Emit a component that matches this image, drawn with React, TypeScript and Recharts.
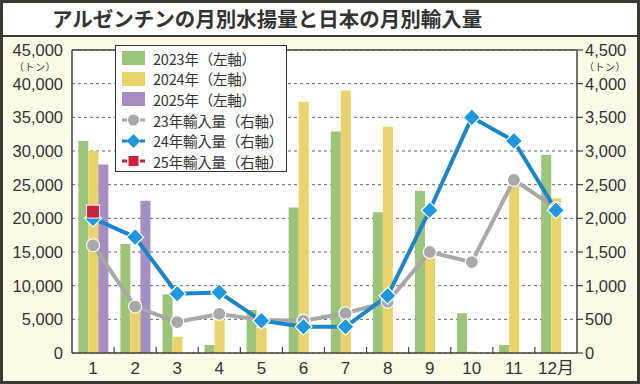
import React from 'react';
import {
  ComposedChart, Bar, Line, XAxis, YAxis, CartesianGrid, ReferenceLine,
} from 'recharts';

const months = [1, 2, 3, 4, 5, 6, 7, 8, 9, 10, 11, 12];
const monthLabels = ['1', '2', '3', '4', '5', '6', '7', '8', '9', '10', '11', '12月'];

const catch2023 = [31500, 16200, 8700, 1200, 6400, 21600, 32900, 20900, 24100, 5900, 1200, 29400];
const catch2024 = [30000, 6500, 2400, 5000, 3700, 37300, 39000, 33600, 14200, 200, 24800, 23000];
const catch2025: (number | null)[] = [28000, 22600, null, null, null, null, null, null, null, null, null, null];

const import2023 = [1600, 690, 460, 580, 490, 480, 590, 760, 1500, 1350, 2570, 2150];
const import2024 = [2000, 1720, 880, 900, 480, 390, 390, 850, 2120, 3500, 3150, 2120];
const import2025: (number | null)[] = [2100, null, null, null, null, null, null, null, null, null, null, null];

const leftTicks = [0, 5000, 10000, 15000, 20000, 25000, 30000, 35000, 40000, 45000];
const rightTicks = [0, 500, 1000, 1500, 2000, 2500, 3000, 3500, 4000, 4500];

const TITLE = 'アルゼンチンの月別水揚量と日本の月別輸入量';
const UNIT = '（トン）';

const GREEN = '#9cc47a';
const YELLOW = '#e9d36a';
const PURPLE = '#a78ec2';
const GRAY = '#a8a8a8';
const BLUE_LINE = '#1a86c6';
const BLUE_DOT = '#1f97dd';
const RED = '#c9233e';
const TEXT = '#333333';
const FONT = '"Noto Sans CJK JP", "Noto Sans", sans-serif';
const NUM_FONT = '"Liberation Sans", "Noto Sans CJK JP", sans-serif';

const data = months.map((m, i) => ({
  month: m,
  label: monthLabels[i],
  c23: catch2023[i],
  c24: catch2024[i],
  c25: catch2025[i],
  i23: import2023[i],
  i24: import2024[i],
  i25: import2025[i],
}));

const legendItems = [
  { label: '2023年（左軸）', kind: 'bar', color: GREEN },
  { label: '2024年（左軸）', kind: 'bar', color: YELLOW },
  { label: '2025年（左軸）', kind: 'bar', color: PURPLE },
  { label: '23年輸入量（右軸）', kind: 'circle', color: GRAY },
  { label: '24年輸入量（右軸）', kind: 'diamond', color: BLUE_DOT },
  { label: '25年輸入量（右軸）', kind: 'square', color: RED },
];

const circleDot = (p: any) => {
  if (p.cy == null || p.value == null) return <g key={'c' + p.index} />;
  return <circle key={'c' + p.index} cx={p.cx} cy={p.cy} r={6.5} fill={GRAY} stroke="#ffffff" strokeWidth={1.2} />;
};
const diamondDot = (p: any) => {
  if (p.cy == null || p.value == null) return <g key={'d' + p.index} />;
  const s = 8.5;
  return (
    <polygon
      key={'d' + p.index}
      points={`${p.cx},${p.cy - s} ${p.cx + s},${p.cy} ${p.cx},${p.cy + s} ${p.cx - s},${p.cy}`}
      fill={BLUE_DOT}
      stroke="#ffffff"
      strokeWidth={1.2}
    />
  );
};
const squareDot = (p: any) => {
  if (p.cy == null || p.value == null) return <g key={'s' + p.index} />;
  const s = 6.5;
  return <rect key={'s' + p.index} x={p.cx - s} y={p.cy - s} width={2 * s} height={2 * s} fill={RED} stroke="#ffffff" strokeWidth={1} />;
};

const XTick = (props: any) => {
  const { x, y, payload } = props;
  const half = payload && payload.offset != null ? payload.offset : 0;
  const lbl = monthLabels[months.indexOf(payload.value)];
  return (
    <g>
      {payload.index > 0 && (
        <line x1={x - half} x2={x - half} y1={y} y2={y - 6} stroke="#444" strokeWidth={1.2} />
      )}
      <text x={x} y={y + 21} textAnchor="middle" fill={TEXT} fontSize={17} fontFamily={NUM_FONT}>
        {lbl}
      </text>
    </g>
  );
};

const fmt = (v: number) => v.toLocaleString('en-US');

function LegendIcon({ kind, color }: { kind: string; color: string }) {
  if (kind === 'bar') {
    return (
      <svg width={24} height={16} style={{ display: 'block' }}>
        <rect x={0} y={1} width={23} height={14} fill={color} />
      </svg>
    );
  }
  return (
    <svg width={24} height={16} style={{ display: 'block' }}>
      <line x1={0} x2={5} y1={8} y2={8} stroke={kind === 'diamond' ? BLUE_LINE : color} strokeWidth={3} />
      <line x1={18} x2={23} y1={8} y2={8} stroke={kind === 'diamond' ? BLUE_LINE : color} strokeWidth={3} />
      {kind === 'circle' && <circle cx={11.5} cy={8} r={5.5} fill={color} />}
      {kind === 'diamond' && <polygon points="11.5,1 18.5,8 11.5,15 4.5,8" fill={color} />}
      {kind === 'square' && <rect x={6.5} y={3} width={10} height={10} fill={color} />}
    </svg>
  );
}

export default function App() {
  return (
    <div style={{ position: 'absolute', left: 0, top: 0, width: 640, height: 384, background: '#fdfbe8', overflow: 'hidden', fontFamily: FONT }}>
      <div style={{ position: 'absolute', left: 0, top: 0 }}>
        <ComposedChart
          width={640}
          height={384}
          data={data}
          margin={{ top: 50, right: 0, bottom: 0, left: 0 }}
          barCategoryGap="15%"
          barGap={0}
        >
          <CartesianGrid
            yAxisId="left"
            vertical={false}
            stroke="#666"
            strokeDasharray="3 3"
            fill="#ffffff"
            fillOpacity={1}
          />
          <XAxis
            dataKey="month"
            xAxisId={0}
            height={31}
            tickLine={false}
            tickSize={0}
            tickMargin={0}
            interval={0}
            axisLine={{ stroke: '#444', strokeWidth: 1.5 }}
            tick={<XTick />}
          />
          <YAxis
            yAxisId="left"
            orientation="left"
            width={72}
            domain={[0, 45000]}
            ticks={leftTicks}
            interval={0}
            tickFormatter={fmt}
            tickLine={false}
            tickSize={0}
            tickMargin={9}
            axisLine={{ stroke: '#444', strokeWidth: 1.5 }}
            tick={{ fill: TEXT, fontSize: 16.5, fontFamily: NUM_FONT }}
          />
          <YAxis
            yAxisId="right"
            orientation="right"
            width={63}
            domain={[0, 4500]}
            ticks={rightTicks}
            interval={0}
            tickFormatter={fmt}
            tickLine={{ stroke: '#444', strokeWidth: 1.2 }}
            tickSize={6}
            tickMargin={2}
            axisLine={{ stroke: '#444', strokeWidth: 1.5 }}
            tick={{ fill: TEXT, fontSize: 16.5, fontFamily: NUM_FONT }}
          />
          <ReferenceLine yAxisId="left" y={45000} stroke="#444" strokeWidth={1.5} />
          <Bar yAxisId="left" dataKey="c23" fill={GREEN} isAnimationActive={false} />
          <Bar yAxisId="left" dataKey="c24" fill={YELLOW} isAnimationActive={false} />
          <Bar yAxisId="left" dataKey="c25" fill={PURPLE} isAnimationActive={false} />
          <Line yAxisId="right" dataKey="i23" stroke={GRAY} strokeWidth={4} dot={circleDot} activeDot={false} isAnimationActive={false} />
          <Line yAxisId="right" dataKey="i24" stroke={BLUE_LINE} strokeWidth={4} dot={diamondDot} activeDot={false} isAnimationActive={false} />
          <Line yAxisId="right" dataKey="i25" stroke={RED} strokeWidth={4} dot={squareDot} activeDot={false} isAnimationActive={false} />
        </ComposedChart>
      </div>

      {/* unit labels */}
      <div style={{ position: 'absolute', left: 14, top: 61.4, fontSize: 10, color: TEXT, lineHeight: '12px', height: 12, whiteSpace: 'nowrap', letterSpacing: 0.5 }}>{UNIT}</div>
      <div style={{ position: 'absolute', left: 584, top: 61.4, fontSize: 10, color: TEXT, lineHeight: '12px', height: 12, whiteSpace: 'nowrap', letterSpacing: 0.5 }}>{UNIT}</div>

      {/* legend */}
      <div style={{ position: 'absolute', left: 115, top: 45, width: 172, height: 127, boxSizing: 'border-box', border: '1.5px solid #333', background: '#ffffff', padding: '2px 0 0 6px' }}>
        {legendItems.map((it) => (
          <div key={it.label} style={{ display: 'flex', alignItems: 'center', height: 20.6 }}>
            <LegendIcon kind={it.kind} color={it.color} />
            <span style={{ marginLeft: 7, fontSize: 14.5, color: TEXT, whiteSpace: 'nowrap', letterSpacing: -0.2 }}>{it.label}</span>
          </div>
        ))}
      </div>

      {/* title */}
      <div style={{ position: 'absolute', left: 0, top: 0, width: 640, height: 37, boxSizing: 'border-box', background: '#ffffff', borderBottom: '2.5px solid #3a3a32' }}>
        <div style={{ position: 'absolute', left: 52, top: 4, fontSize: 20.5, fontWeight: 'bold', color: TEXT, whiteSpace: 'nowrap', lineHeight: '28px' }}>{TITLE}</div>
      </div>

      {/* outer frame */}
      <div style={{ position: 'absolute', left: 0, top: 0, width: 640, height: 384, boxSizing: 'border-box', border: '3px solid #3a3a32', pointerEvents: 'none' }} />
    </div>
  );
}
